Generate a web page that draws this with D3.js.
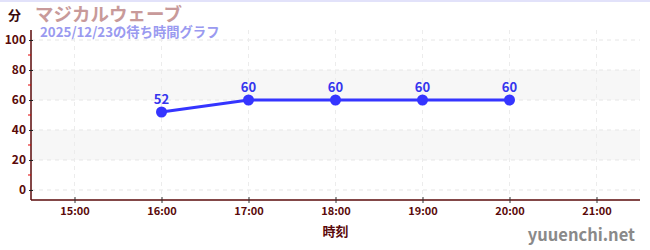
<!DOCTYPE html>
<html><head><meta charset="utf-8">
<script src="https://cdn.jsdelivr.net/npm/d3@7"></script>
<style>
html,body{margin:0;padding:0;background:#fff;}
svg{display:block;}
text{font-family:"Noto Sans CJK JP","Noto Sans",sans-serif;}
</style></head><body>
<script>
const times = ["16:00","17:00","18:00","19:00","20:00"];
const waits = [52, 60, 60, 60, 60];
const xTickLabels = ["15:00","16:00","17:00","18:00","19:00","20:00","21:00"];
const yTicks = [0, 20, 40, 60, 80, 100];
const yMinorTicks = [10, 30, 50, 70, 90];
const bands = [[20, 40], [60, 80]];
const title = "マジカルウェーブ";
const subtitle = "2025/12/23の待ち時間グラフ";
const yUnit = "分";
const xLabel = "時刻";
const watermark = "yuuenchi.net";

const W = 650, H = 250;
const m = {left: 31, right: 10, top: 30, bottom: 50};
const svg = d3.select("body").append("svg").attr("width", W).attr("height", H);

const parse = s => { const [h, mm] = s.split(":").map(Number); return h + mm/60; };
const x = d3.scaleLinear().domain([14.5, 21.5]).range([m.left, W - m.right]);
const y = d3.scaleLinear().domain([-6.67, 106.67]).range([H - m.bottom, m.top]);

// top border
svg.append("rect").attr("x",0).attr("y",0).attr("width",W).attr("height",2).attr("fill","#e2e2fa");

// bands
svg.selectAll("rect.band").data(bands).enter().append("rect")
  .attr("x", m.left).attr("width", W - m.right - m.left)
  .attr("y", d => y(d[1])).attr("height", d => y(d[0]) - y(d[1]))
  .attr("fill", "#f7f7f7");

// grid
svg.selectAll("line.hg").data(yTicks).enter().append("line")
  .attr("x1", m.left).attr("x2", W - m.right)
  .attr("y1", d => y(d)).attr("y2", d => y(d))
  .attr("stroke", "#e6e6e6").attr("stroke-dasharray", "4,4");
svg.selectAll("line.vg").data(xTickLabels).enter().append("line")
  .attr("x1", d => x(parse(d))).attr("x2", d => x(parse(d)))
  .attr("y1", m.top).attr("y2", H - m.bottom)
  .attr("stroke", "#ececec").attr("stroke-dasharray", "4,4");

const axisColor = "#5a0a0a";
// y axis
const ya = svg.append("g").attr("transform", `translate(${m.left},0)`)
  .call(d3.axisLeft(y).tickValues(yTicks).tickSize(2).tickPadding(3));
ya.select(".domain").attr("stroke", axisColor).attr("stroke-width", 1.5).attr("d", `M0,${m.top}V${H-m.bottom}`);
ya.selectAll(".tick line").attr("stroke", "#222").attr("x1", 2).attr("x2", -2);
ya.selectAll(".tick text").attr("fill", axisColor).attr("font-size", 12).attr("font-weight", "bold")
  .style("font-family", '"Noto Sans CJK JP",sans-serif');
svg.selectAll("line.minor").data(yMinorTicks).enter().append("line")
  .attr("x1", m.left - 3).attr("x2", m.left).attr("y1", d => y(d)).attr("y2", d => y(d))
  .attr("stroke", "#e00000");

// x axis
const xa = svg.append("g").attr("transform", `translate(0,${H - m.bottom})`)
  .call(d3.axisBottom(x).tickValues(xTickLabels.map(parse)).tickFormat((d,i) => xTickLabels[i]).tickSize(3).tickPadding(4));
xa.select(".domain").attr("stroke", axisColor).attr("stroke-width", 1.5).attr("d", `M${m.left},0H${W - m.right}`);
xa.selectAll(".tick line").attr("stroke", "#333").attr("y1", -3).attr("y2", 3);
xa.selectAll(".tick text").attr("fill", axisColor).attr("font-size", 11).attr("font-weight", "bold")
  .style("font-family", '"Noto Sans CJK JP",sans-serif');

// line
const pts = times.map((t, i) => [parse(t), waits[i]]);
svg.append("path").datum(pts)
  .attr("d", d3.line().x(d => x(d[0])).y(d => y(d[1])))
  .attr("fill", "none").attr("stroke", "#3535ff").attr("stroke-width", 3);
svg.selectAll("circle.pt").data(pts).enter().append("circle")
  .attr("cx", d => x(d[0])).attr("cy", d => y(d[1])).attr("r", 5.5).attr("fill", "#3535ff");
svg.selectAll("text.lbl").data(pts).enter().append("text")
  .attr("x", d => x(d[0])).attr("y", d => y(d[1]) - 8).attr("text-anchor", "middle")
  .attr("fill", "#3535ee").attr("font-size", 13).attr("font-weight", "bold").text(d => d[1]);

// titles
svg.append("text").attr("x", 8).attr("y", 20).attr("fill", "#3a0a0a").attr("font-size", 13).attr("font-weight","bold").text(yUnit);
svg.append("text").attr("x", 35).attr("y", 20.5).attr("fill", "#c89a9a").attr("font-size", 18.5).attr("font-weight","bold").text(title);
svg.append("text").attr("x", 40).attr("y", 37).attr("fill", "#9a9af0").attr("font-size", 13.3).attr("font-weight","bold").text(subtitle);
svg.append("text").attr("x", x(18)).attr("y", 236).attr("text-anchor","middle").attr("fill", axisColor).attr("font-size", 13).attr("font-weight","bold").text(xLabel);
svg.append("text").attr("x", 635).attr("y", 241).attr("text-anchor","end").attr("fill", "#8a8a8a").attr("font-size", 16.5).attr("font-weight","bold").text(watermark);
</script>
</body></html>
